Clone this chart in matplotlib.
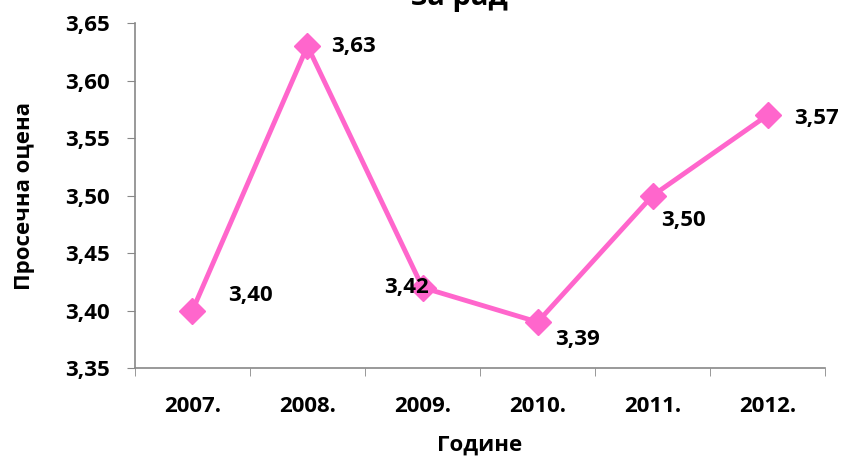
import matplotlib
matplotlib.use("Agg")
import matplotlib.pyplot as plt

# просечна оцена по годинама
YEARS = ["2007.", "2008.", "2009.", "2010.", "2011.", "2012."]
SCORES = [3.40, 3.63, 3.42, 3.39, 3.50, 3.57]
LABELS = ["3,40", "3,63", "3,42", "3,39", "3,50", "3,57"]
Y_TICKS = [3.35, 3.40, 3.45, 3.50, 3.55, 3.60, 3.65]

# помераји натписа у пикселима (x, y, поравнање)
LABEL_OFFSETS = [
    (36, 15, "left"),
    (24, 0, "left"),
    (6, 0, "right"),
    (18, -17, "left"),
    (8, -25, "left"),
    (26, -3, "left"),
]

plt.rcParams["font.family"] = ["Open Sans", "DejaVu Sans"]
plt.rcParams["font.weight"] = "bold"

PINK = "#FF66CC"
AXIS_GRAY = "#888888"
FS = 16

fig = plt.figure(figsize=(8.43, 4.61), dpi=100)
ax = fig.add_axes([0.160, 0.2017, 0.819, 0.7483])

x = list(range(len(YEARS)))
ax.plot(x, SCORES, color=PINK, lw=3.5, marker="D", markersize=13,
        markeredgecolor=PINK, zorder=3)

px = 0.72  # pixels -> points at dpi 100
for xi, yi, lab, (dx, dy, ha) in zip(x, SCORES, LABELS, LABEL_OFFSETS):
    ax.annotate(lab, (xi, yi), xytext=(dx * px, dy * px),
                textcoords="offset points", ha=ha, va="center",
                fontsize=FS, fontweight="bold", color="black")

ax.set_xlim(-0.5, len(YEARS) - 0.5)
ax.set_ylim(3.35, 3.65)
ax.set_yticks(Y_TICKS)
ax.set_yticklabels([f"{v:.2f}".replace(".", ",") for v in Y_TICKS],
                   fontsize=FS, fontweight="bold")
ax.set_xticks(x)
ax.set_xticklabels(YEARS, fontsize=FS, fontweight="bold")
ax.set_xticks([i - 0.5 for i in range(len(YEARS) + 1)], minor=True)

ax.tick_params(axis="x", which="major", length=0, pad=20)
ax.tick_params(axis="x", which="minor", length=6, color=AXIS_GRAY,
               direction="out")
ax.tick_params(axis="y", length=6, color=AXIS_GRAY, direction="out", pad=12)

for side in ("top", "right"):
    ax.spines[side].set_visible(False)
for side in ("left", "bottom"):
    ax.spines[side].set_color(AXIS_GRAY)
    ax.spines[side].set_linewidth(1.2)

ax.set_ylabel("Просечна оцена", fontsize=FS, fontweight="bold", labelpad=22)
ax.set_xlabel("Године", fontsize=FS, fontweight="bold", labelpad=13)

# наслов је делом изван горње ивице слике
fig.text(0.545, 1 - 5 / 461, "за рад", ha="center", va="baseline",
         fontsize=21, fontweight="bold")

fig.savefig("out.png", dpi=100)
